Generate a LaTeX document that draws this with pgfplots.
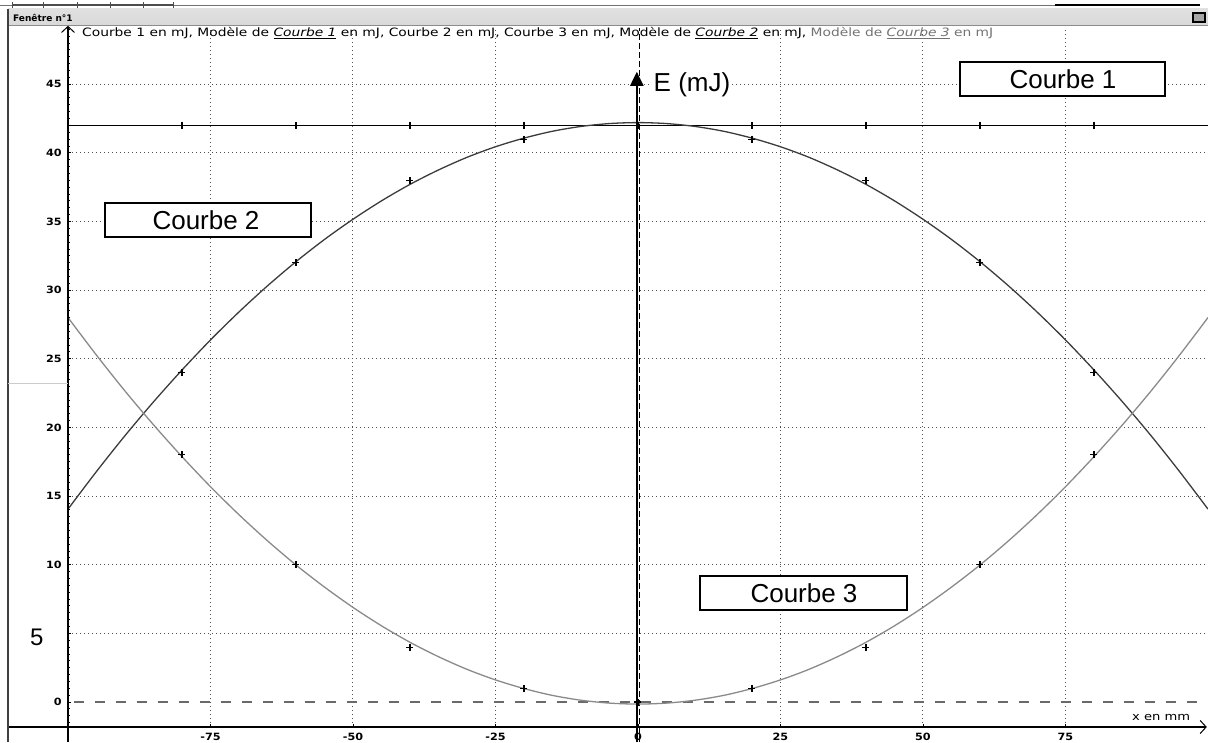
\documentclass[border=0pt]{standalone}
\usepackage{graphicx}
\usepackage{pgfplots}
\pgfplotsset{compat=1.18}
\usetikzlibrary{arrows.meta}
\usepackage{fontspec}
\setmainfont{Liberation Sans}
\newfontfamily\dejavu{DejaVu Sans}
\definecolor{cTwo}{HTML}{3C3C3C}
\definecolor{cThree}{HTML}{8A8A8A}
\definecolor{gridc}{HTML}{505050}
\definecolor{zeroc}{HTML}{6A6A6A}

\pgfplotstableread{
x E
-100 14.05
-95 16.79
-90 19.40
-85 21.86
-80 24.18
-75 26.37
-70 28.41
-65 30.31
-60 32.07
-55 33.69
-50 35.16
-45 36.50
-40 37.70
-35 38.75
-30 39.67
-25 40.44
-20 41.07
-15 41.57
-10 41.92
-5 42.13
0 42.20
5 42.13
10 41.92
15 41.57
20 41.07
25 40.44
30 39.67
35 38.75
40 37.70
45 36.50
50 35.16
55 33.69
60 32.07
65 30.31
70 28.41
75 26.37
80 24.18
85 21.86
90 19.40
95 16.79
100 14.05
}\modeleDeux

\pgfplotstableread{
x E
-100 28.00
-95 25.26
-90 22.65
-85 20.19
-80 17.87
-75 15.68
-70 13.64
-65 11.74
-60 9.98
-55 8.37
-50 6.89
-45 5.55
-40 4.35
-35 3.30
-30 2.38
-25 1.61
-20 0.98
-15 0.48
-10 0.13
-5 -0.08
0 -0.15
5 -0.08
10 0.13
15 0.48
20 0.98
25 1.61
30 2.38
35 3.30
40 4.35
45 5.55
50 6.89
55 8.37
60 9.98
65 11.74
70 13.64
75 15.68
80 17.87
85 20.19
90 22.65
95 25.26
100 28.00
}\modeleTrois

\newcommand{\tlfont}{\fontsize{10}{12}\dejavu\bfseries}

\begin{document}
\begin{tikzpicture}
\path[use as bounding box, fill=white] (0,0) rectangle (1208pt,742pt);

\begin{axis}[
  at={(68pt,15pt)}, anchor=south west,
  scale only axis, width=1140pt, height=699pt,
  xmin=-100, xmax=100, ymin=-1.82, ymax=49.09,
  axis line style={draw=none},
  clip=false,
  tick pos=left,
  xtick={-75,-50,-25,25,50,75},
  xticklabels={-75,-50,-25,25,50,75},
  extra x ticks={0}, extra x tick labels={0},
  extra x tick style={grid=none},
  ytick={5,10,15,20,25,30,35,40,45},
  yticklabels={,10,15,20,25,30,35,40,45},
  extra y ticks={0}, extra y tick labels={0},
  extra y tick style={grid=none},
  minor ytick={-1.5,-1,...,49},
  grid=major,
  major grid style={draw=gridc, line width=1pt, dash pattern=on 1pt off 3pt},
  tick align=inside,
  major tick length=3pt, minor tick length=2pt,
  tick style={black, line width=0.8pt},
  xticklabel style={font=\tlfont, anchor=north, inner sep=0pt, yshift=-6pt, xscale=1.12},
  yticklabel style={font=\tlfont, anchor=east, inner sep=0pt, xshift=-6pt, xscale=1.12},
]
% zero reference lines
\draw[zeroc, line width=2pt, dash pattern=on 10pt off 11pt] (axis cs:-99,0) -- (axis cs:100,0);
\draw[black, line width=1.1pt, dash pattern=on 6pt off 3pt] (axis cs:0.3,-2.91) -- (axis cs:0.3,49.09);

% Courbe 1 and its model
\addplot[black, line width=1.2pt] coordinates {(-100,42) (100,42)};
\addplot[only marks, mark=+, mark size=3.5pt, black, mark options={line width=1.1pt}]
  coordinates {(-80,42) (-60,42) (-40,42) (-20,42) (0,42) (20,42) (40,42) (60,42) (80,42)};

% Courbe 2 model and data
\addplot[cTwo, line width=1.3pt, smooth] table[x=x, y=E] {\modeleDeux};
\addplot[only marks, mark=+, mark size=3.5pt, black, mark options={line width=1.1pt}]
  coordinates {(-80,24) (-60,32) (-40,38) (-20,41) (0,42) (20,41) (40,38) (60,32) (80,24)};

% Courbe 3 model and data
\addplot[cThree, line width=1.3pt, smooth] table[x=x, y=E] {\modeleTrois};
\addplot[only marks, mark=+, mark size=3.5pt, black, mark options={line width=1.1pt}]
  coordinates {(-80,18) (-60,10) (-40,4) (-20,1) (0,0) (20,1) (40,4) (60,10) (80,18)};

% axes
\draw[black, line width=1.5pt, -{Straight Barb[length=6pt,width=13pt,line width=1pt]}]
  (axis cs:-100,-2.91) -- (axis cs:-100,49.25);
\draw[black, line width=1.5pt, -{Straight Barb[length=6pt,width=13pt,line width=1pt]}]
  (axis cs:-110.5,-1.82) -- (axis cs:99.8,-1.82);
% E arrow
\draw[black, line width=2.5pt, -{Triangle[length=14pt,width=13pt]}]
  (axis cs:-0.2,-2.91) -- (axis cs:-0.2,45.9);
\end{axis}

% window decorations (picture coordinates, 1px = 1pt)
\draw[black!55, line width=1pt] (0pt,736.5pt) -- (1055pt,736.5pt);
\draw[black, line width=2pt] (1055pt,736.5pt) -- (1200pt,736.5pt);
\draw[black!70, line width=1.3pt] (12pt,737pt) -- (173pt,737pt);
\foreach \xx in {12,43,77,110,143,173} {\draw[black!70, line width=1pt] (\xx pt,734pt) -- (\xx pt,740pt);}
\shade[top color=black!12, middle color=black!40, bottom color=black!15] (8pt,717pt) rectangle (1208pt,733pt);
\draw[black!45, line width=0.8pt] (8pt,717pt) -- (1208pt,717pt);
\node[anchor=base west, inner sep=0pt] at (13pt,720.5pt) {\fontsize{9}{10}\dejavu\bfseries Fenêtre n°1};
\draw[black, line width=1.2pt, fill=black!35] (1193pt,720pt) rectangle (1205pt,729pt);
\draw[black!75, line width=1.5pt] (8pt,0pt) -- (8pt,733pt);
\draw[black!20, line width=0.8pt] (8pt,359pt) -- (68pt,359pt);

% legend line
\node[anchor=base west, inner sep=0pt] at (82pt,705.5pt) {\resizebox{911pt}{\height}{\fontsize{11.5}{13}\dejavu Courbe 1 en mJ, Modèle de \underline{\textit{Courbe 1}} en mJ, Courbe 2 en mJ, Courbe 3 en mJ, Modèle de \underline{\textit{Courbe 2}} en mJ, {\color{black!55}Modèle de \underline{\textit{Courbe 3}} en mJ}}};

% annotation boxes
\draw[black, line width=1.2pt, fill=white] (960pt,646pt) rectangle (1165pt,680pt);
\node at (1063pt,663pt) {\fontsize{26}{30}\selectfont Courbe 1};
\draw[black, line width=1.2pt, fill=white] (105pt,505pt) rectangle (311pt,539pt);
\node at (206pt,522pt) {\fontsize{26}{30}\selectfont Courbe 2};
\draw[black, line width=1.2pt, fill=white] (700pt,132pt) rectangle (907pt,166pt);
\node at (804pt,149pt) {\fontsize{26}{30}\selectfont Courbe 3};

\node[anchor=base west, inner sep=1.5pt, fill=white] at (652pt,650pt) {\fontsize{26}{30}\selectfont E (mJ)};
\node[anchor=base west, inner sep=0pt] at (30pt,96pt) {\fontsize{24}{28}\selectfont 5};
\node[anchor=base west, inner sep=0pt] at (1132pt,21pt) {\resizebox{58pt}{\height}{\fontsize{11}{13}\dejavu x en mm}};
\end{tikzpicture}
\end{document}
